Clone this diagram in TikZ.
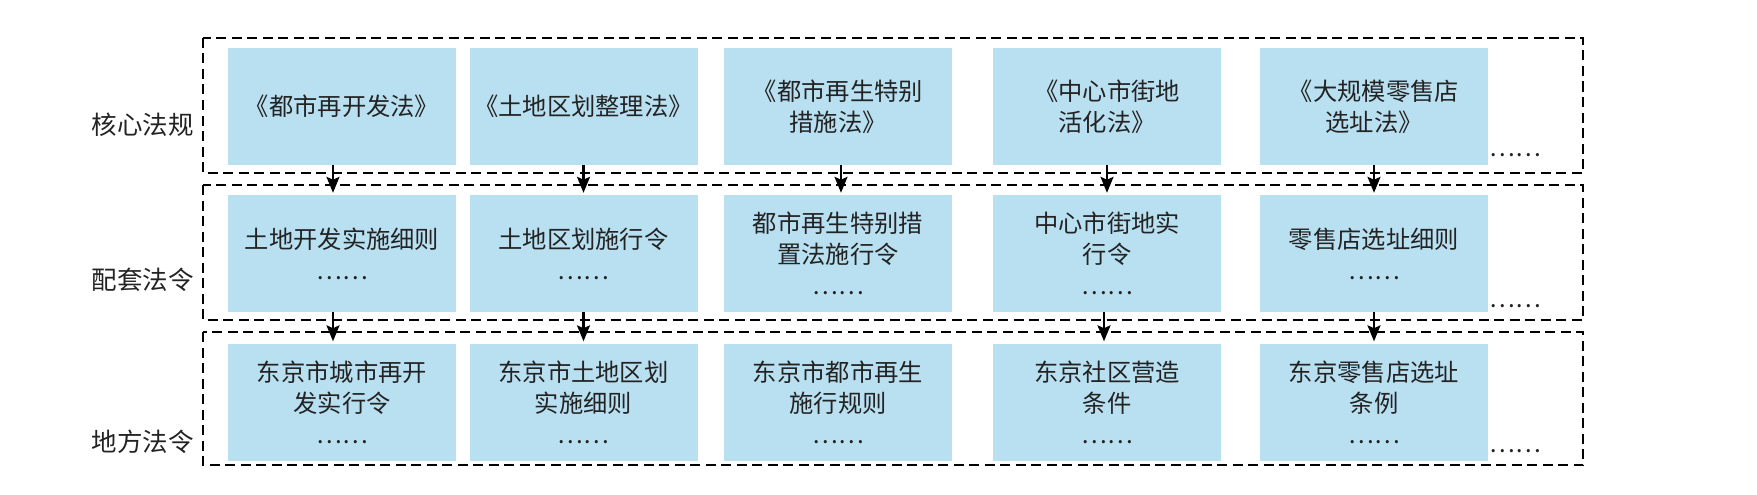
\documentclass[tikz,border=0pt]{standalone}
\usepackage{fontspec}
\setmainfont{Noto Sans CJK SC}
\usetikzlibrary{arrows.meta}
\definecolor{boxblue}{RGB}{185,224,241}
\definecolor{txt}{RGB}{35,35,35}
\begin{document}
\begin{tikzpicture}[x=1pt,y=-1pt,
  lawbox/.style={fill=boxblue, minimum width=228pt, minimum height=117pt, inner sep=0pt, align=center, text=txt, font=\fontsize{24.3}{31}\selectfont},
  group/.style={draw=black, line width=2.4pt, dash pattern=on 10pt off 5.5pt},
  arr/.style={draw=black, line width=2.2pt, -{Stealth[length=16pt,width=13pt,inset=3pt]}, shorten >=2pt},
  lbl/.style={anchor=east, inner sep=0pt, text=txt, font=\fontsize{25.5}{28}\selectfont},
  more/.style={inner sep=0pt, text=txt, font=\fontsize{24.3}{28}\selectfont}]
\useasboundingbox (0,0) rectangle (1757,495);

% groups
\draw[group] (203,38) rectangle (1583,173);
\draw[group] (203,185) rectangle (1583,320);
\draw[group] (203,332) rectangle (1583,465);

% labels
\node[lbl] (l1) at (194,125) {核心法规};
\node[lbl] (l2) at (194,280) {配套法令};
\node[lbl] (l3) at (194,442) {地方法令};

% row 1
\node[lawbox] (a1) at (342,106.5) {《都市再开发法》};
\node[lawbox] (a2) at (583.5,106.5) {《土地区划整理法》};
\node[lawbox] (a3) at (838,106.5) {《都市再生特别\\措施法》};
\node[lawbox] (a4) at (1107,106.5) {《中心市街地\\活化法》};
\node[lawbox] (a5) at (1374,106.5) {《大规模零售店\\选址法》};

% row 2
\node[lawbox] (b1) at (342,253.5) {土地开发实施细则\\……};
\node[lawbox] (b2) at (583.5,253.5) {土地区划施行令\\……};
\node[lawbox] (b3) at (838,253.5) {都市再生特别措\\置法施行令\\……};
\node[lawbox] (b4) at (1107,253.5) {中心市街地实\\行令\\……};
\node[lawbox] (b5) at (1374,253.5) {零售店选址细则\\……};

% row 3
\node[lawbox] (c1) at (342,402) {东京市城市再开\\发实行令\\……};
\node[lawbox] (c2) at (583.5,402) {东京市土地区划\\实施细则\\……};
\node[lawbox] (c3) at (838,402) {东京市都市再生\\施行规则\\……};
\node[lawbox] (c4) at (1107,402) {东京社区营造\\条件\\……};
\node[lawbox] (c5) at (1374,402) {东京零售店选址\\条例\\……};

% trailing dots
\node[more] (m1) at (1515,155) {……};
\node[more] (m2) at (1515,306) {……};
\node[more] (m3) at (1515,451) {……};

% arrows row 1 -> 2
\draw[arr] ([xshift=-9pt]a1.south) -- ([xshift=-9pt]b1.north);
\draw[arr] (a2.south) -- (b2.north);
\draw[arr] ([xshift=3pt]a3.south) -- ([xshift=3pt]b3.north);
\draw[arr] (a4.south) -- (b4.north);
\draw[arr] (a5.south) -- (b5.north);

% arrows row 2 -> 3
\draw[arr] ([xshift=-9pt]b1.south) -- ([xshift=-9pt]c1.north);
\draw[arr] (b2.south) -- (c2.north);
\draw[arr] ([xshift=-3pt]b4.south) -- ([xshift=-3pt]c4.north);
\draw[arr] (b5.south) -- (c5.north);
\end{tikzpicture}
\end{document}
